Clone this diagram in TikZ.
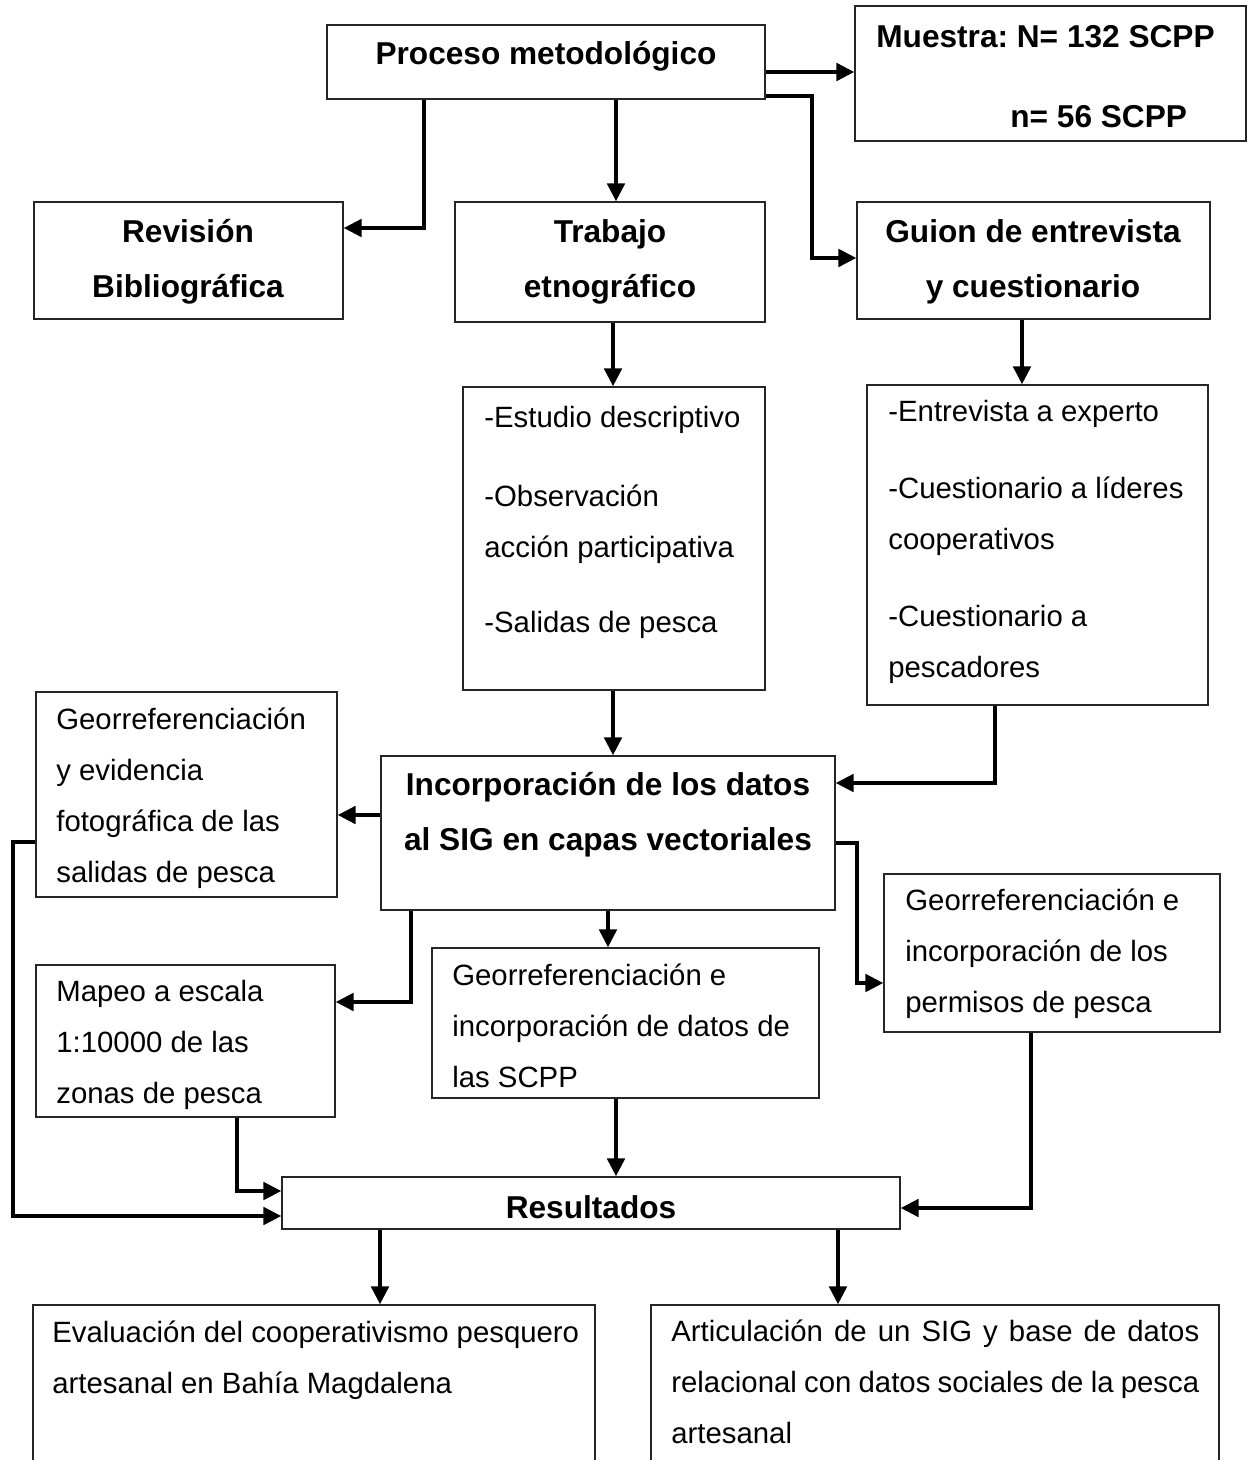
\documentclass[tikz,border=0pt]{standalone}
\usepackage{fontspec}
\setmainfont{Liberation Sans}
\frenchspacing
\usetikzlibrary{arrows.meta, fit}
\tikzset{
  x=0.02cm, y=-0.02cm, % one unit is one pixel of the page
  caja/.style={draw=black!85, line width=0.6pt, inner sep=0pt}, % frame of every box
  flecha/.style={-{Triangle[length=0.36cm, width=0.34cm]}, line width=2.6pt}, % thick arrows
  texto/.style={inner sep=0pt, align=left, font=\fontsize{16.7}{29}\selectfont},
  titulo/.style={inner sep=0pt, align=center, font=\fontsize{18}{31.3}\selectfont\bfseries},
}

\begin{document}
\begin{tikzpicture}
  \clip (0,0) rectangle (1247,1460);
  \fill[white] (0,0) rectangle (1247,1460);

  % boxes
  \node[caja, fit={(327,25) (765,99)}] (proceso) {};
  \node[caja, fit={(855,6) (1246,141)}] (muestra) {};
  \node[caja, fit={(34,202) (343,319)}] (revision) {};
  \node[caja, fit={(455,202) (765,322)}] (trabajo) {};
  \node[caja, fit={(857,202) (1210,319)}] (guion) {};
  \node[caja, fit={(463,387) (765,690)}] (estudio) {};
  \node[caja, fit={(867,385) (1208,705)}] (entrevista) {};
  \node[caja, fit={(36,692) (337,897)}] (fotos) {};
  \node[caja, fit={(381,756) (835,910)}] (incorporacion) {};
  \node[caja, fit={(36,965) (335,1117)}] (mapeo) {};
  \node[caja, fit={(432,948) (819,1098)}] (scpp) {};
  \node[caja, fit={(884,874) (1220,1032)}] (permisos) {};
  \node[caja, fit={(282,1177) (900,1229)}] (resultados) {};
  \node[caja, fit={(33,1305) (595,1480)}] (evaluacion) {};
  \node[caja, fit={(651,1305) (1219,1480)}] (articulacion) {};

  % texts (anchor base = baseline of the last line)
  \node[titulo, anchor=base] (t-proceso) at (546,65) {Proceso metodológico};
  \node[titulo, anchor=base west] (t-muestra) at (876,48) {Muestra: N= 132 SCPP};
  \node[titulo, anchor=base west] (t-n) at (1010,128) {n= 56 SCPP};
  \node[titulo, anchor=base] (t-revision) at (188,297) {Revisión\\Bibliográfica};
  \node[titulo, anchor=base] (t-trabajo) at (610,297) {Trabajo\\etnográfico};
  \node[titulo, anchor=base] (t-guion) at (1033,297) {Guion de entrevista\\y cuestionario};
  \node[texto, anchor=base west] (t-estudio) at (484,632)
    {-Estudio descriptivo\\[0.56cm]-Observación\\acción participativa\\[0.48cm]-Salidas de pesca};
  \node[texto, anchor=base west] (t-entrevista) at (888,677)
    {-Entrevista a experto\\[0.52cm]-Cuestionario a líderes\\cooperativos\\[0.52cm]-Cuestionario a\\pescadores};
  \node[texto, anchor=base west] (t-fotos) at (56,882)
    {Georreferenciación\\y evidencia\\fotográfica de las\\salidas de pesca};
  \node[titulo, anchor=base] (t-incorporacion) at (608,850)
    {Incorporación de los datos\\al SIG en capas vectoriales};
  \node[texto, anchor=base west] (t-mapeo) at (56,1103)
    {Mapeo a escala\\1:10000 de las\\zonas de pesca};
  \node[texto, anchor=base west] (t-scpp) at (452,1087)
    {Georreferenciación e\\incorporación de datos de\\las SCPP};
  \node[texto, anchor=base west] (t-permisos) at (905,1012)
    {Georreferenciación e\\incorporación de los\\permisos de pesca};
  \node[titulo, anchor=base] (t-resultados) at (591,1218) {Resultados};
  \node[texto, anchor=base west] (t-evaluacion) at (52,1393)
    {Evaluación del cooperativismo pesquero\\artesanal en Bahía Magdalena};
  \node[texto, anchor=base west] (t-articulacion) at (671,1443)
    {\makebox[10.56cm][s]{Articulación de un SIG y base de datos}\\
     \makebox[10.56cm][s]{relacional con datos sociales de la pesca}\\artesanal};

  % arrows
  \draw[flecha] (proceso.south -| 424,0) |- (revision.east |- 0,228);
  \draw[flecha] (proceso.south -| 616,0) -- (trabajo.north -| 616,0);
  \draw[flecha] (proceso.east |- 0,72) -- (muestra.west |- 0,72);
  \draw[flecha] (proceso.east |- 0,96) -| (812,258) -- (guion.west |- 0,258);
  \draw[flecha] (trabajo.south -| 613,0) -- (estudio.north -| 613,0);
  \draw[flecha] (guion.south -| 1022,0) -- (entrevista.north -| 1022,0);
  \draw[flecha] (estudio.south -| 613,0) -- (incorporacion.north -| 613,0);
  \draw[flecha] (entrevista.south -| 995,0) |- (incorporacion.east |- 0,783);
  \draw[flecha] (incorporacion.west |- 0,815) -- (fotos.east |- 0,815);
  \draw[flecha] (incorporacion.south -| 411,0) |- (mapeo.east |- 0,1002);
  \draw[flecha] (incorporacion.south -| 608,0) -- (scpp.north -| 608,0);
  \draw[flecha] (incorporacion.east |- 0,843) -| (857,983) -- (permisos.west |- 0,983);
  \draw[flecha] (fotos.west |- 0,842) -- (13,842) |- (resultados.west |- 0,1216);
  \draw[flecha] (mapeo.south -| 237,0) |- (resultados.west |- 0,1191);
  \draw[flecha] (scpp.south -| 616,0) -- (resultados.north -| 616,0);
  \draw[flecha] (permisos.south -| 1031,0) |- (resultados.east |- 0,1208);
  \draw[flecha] (resultados.south -| 380,0) -- (evaluacion.north -| 380,0);
  \draw[flecha] (resultados.south -| 838,0) -- (articulacion.north -| 838,0);
\end{tikzpicture}
\end{document}
